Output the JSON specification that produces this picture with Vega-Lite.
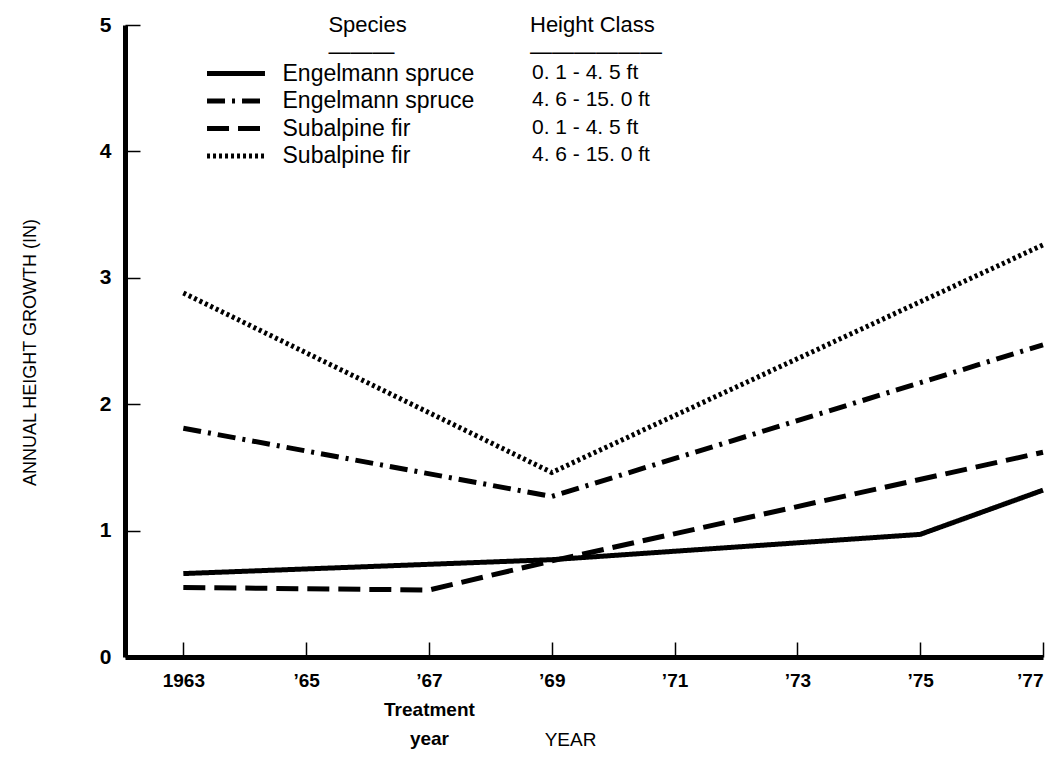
{
  "$schema": "https://vega.github.io/schema/vega-lite/v6.json",
  "autosize": "none",
  "width": 918,
  "height": 632,
  "padding": {"left": 125, "top": 25, "right": 10, "bottom": 101},
  "background": "white",
  "config": {"view": {"stroke": null}, "font": "Liberation Sans"},
  "data": {
    "values": [
      {"series": "Engelmann spruce|0. 1 - 4. 5 ft", "year": 1963, "growth": 0.66},
      {"series": "Engelmann spruce|0. 1 - 4. 5 ft", "year": 1969, "growth": 0.77},
      {"series": "Engelmann spruce|0. 1 - 4. 5 ft", "year": 1975, "growth": 0.97},
      {"series": "Engelmann spruce|0. 1 - 4. 5 ft", "year": 1977, "growth": 1.32},
      {"series": "Engelmann spruce|4. 6 - 15. 0 ft", "year": 1963, "growth": 1.81},
      {"series": "Engelmann spruce|4. 6 - 15. 0 ft", "year": 1969, "growth": 1.27},
      {"series": "Engelmann spruce|4. 6 - 15. 0 ft", "year": 1977, "growth": 2.47},
      {"series": "Subalpine fir|0. 1 - 4. 5 ft", "year": 1963, "growth": 0.55},
      {"series": "Subalpine fir|0. 1 - 4. 5 ft", "year": 1967, "growth": 0.53},
      {"series": "Subalpine fir|0. 1 - 4. 5 ft", "year": 1969, "growth": 0.76},
      {"series": "Subalpine fir|0. 1 - 4. 5 ft", "year": 1977, "growth": 1.62},
      {"series": "Subalpine fir|4. 6 - 15. 0 ft", "year": 1963, "growth": 2.88},
      {"series": "Subalpine fir|4. 6 - 15. 0 ft", "year": 1969, "growth": 1.46},
      {"series": "Subalpine fir|4. 6 - 15. 0 ft", "year": 1977, "growth": 3.26}
    ]
  },
  "mark": {"type": "line", "strokeWidth": 5, "strokeCap": "butt", "strokeJoin": "miter", "color": "black"},
  "encoding": {
    "x": {
      "field": "year", "type": "quantitative",
      "scale": {"domain": [1962.05, 1977], "nice": false, "zero": false},
      "axis": {
        "values": [1963, 1965, 1967, 1969, 1971, 1973, 1975, 1977],
        "labelExpr": "datum.value == 1963 ? '1963' : (datum.value == 1967 ? ['\u201967', 'Treatment', 'year'] : '\u2019' + substring(toString(datum.value), 2, 4))",
        "grid": false,
        "domainColor": "black", "domainWidth": 5,
        "tickColor": "black", "tickWidth": 1.5, "tickSize": -15,
        "labelFont": "Liberation Sans", "labelFontSize": 19, "labelFontWeight": "bold", "labelColor": "black",
        "labelPadding": 38, "labelLineHeight": 29, "labelBaseline": "middle", "labelFlush": true,
        "title": "YEAR", "titleFont": "Liberation Sans", "titleFontSize": 19, "titleFontWeight": "normal", "titleColor": "black",
        "titleX": 445, "titleY": 82, "titleBaseline": "middle"
      }
    },
    "y": {
      "field": "growth", "type": "quantitative",
      "scale": {"domain": [0, 5], "nice": false},
      "axis": {
        "values": [0, 1, 2, 3, 4, 5],
        "grid": false,
        "domainColor": "black", "domainWidth": 5,
        "tickColor": "black", "tickWidth": 1.5, "tickSize": -15,
        "labelFont": "Liberation Sans", "labelFontSize": 21, "labelFontWeight": "bold", "labelColor": "black",
        "labelPadding": 29, "labelFlush": false,
        "title": "ANNUAL HEIGHT GROWTH (IN)", "titleFont": "Liberation Sans", "titleFontSize": 18, "titleFontWeight": "normal", "titleColor": "black",
        "titleX": -95, "titleY": 327, "titleAngle": -90, "titleAlign": "center", "titleBaseline": "middle"
      }
    },
    "strokeDash": {
      "field": "series", "type": "nominal",
      "scale": {
        "domain": ["Engelmann spruce|0. 1 - 4. 5 ft", "Engelmann spruce|4. 6 - 15. 0 ft", "Subalpine fir|0. 1 - 4. 5 ft", "Subalpine fir|4. 6 - 15. 0 ft"],
        "range": [[1, 0], [18, 7, 3, 7], [22, 9], [3, 3]]
      },
      "legend": {
        "title": ["\u200b\u00a0\u00a0\u00a0\u00a0\u00a0\u00a0\u00a0\u00a0\u00a0\u00a0\u00a0\u00a0\u00a0\u00a0\u00a0\u00a0\u00a0Species", "\u200b\u00a0\u00a0\u00a0\u00a0\u00a0\u00a0\u00a0\u00a0\u00a0\u00a0\u00a0\u00a0\u00a0\u00a0\u00a0\u00a0\u00a0———"],
        "orient": "none", "legendX": 99.5, "legendY": -10,
        "symbolType": "M-4,0H4", "symbolSize": 210, "symbolStrokeWidth": 5, "symbolStrokeColor": "black",
        "labelExpr": "split(datum.label, '|')[0]",
        "labelFont": "Liberation Sans", "labelFontSize": 23, "labelColor": "black", "labelOffset": 35, "labelLimit": 0,
        "titleFont": "Liberation Sans", "titleFontSize": 22, "titleFontWeight": "normal", "titleColor": "black",
        "titleAnchor": "start", "titleAlign": "left", "titleLineHeight": 27, "titlePadding": -2, "titleLimit": 0,
        "rowPadding": 3.5
      }
    },
    "color": {
      "field": "series", "type": "nominal",
      "scale": {"range": ["black", "black", "black", "black"]},
      "legend": {
        "title": ["Height Class", "——————"],
        "orient": "none", "legendX": 405, "legendY": -10,
        "symbolType": "stroke", "symbolSize": 0, "symbolOpacity": 0,
        "labelExpr": "split(datum.label, '|')[1]",
        "labelFont": "Liberation Sans", "labelFontSize": 21, "labelColor": "black", "labelOffset": -19, "labelLimit": 0,
        "titleFont": "Liberation Sans", "titleFontSize": 22, "titleFontWeight": "normal", "titleColor": "black",
        "titleAnchor": "start", "titleAlign": "left", "titleLineHeight": 27, "titlePadding": -2, "titleLimit": 0,
        "rowPadding": 5.5
      }
    }
  }
}
